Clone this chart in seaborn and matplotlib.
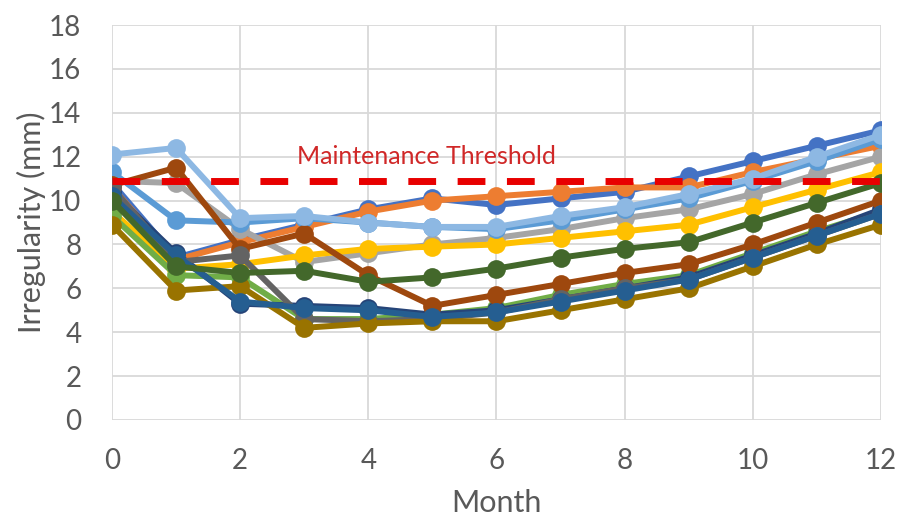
import pandas as pd
import seaborn as sns
import matplotlib.pyplot as plt

months = list(range(13))

blue = [10.8, 7.4, 8.2, 8.9, 9.6, 10.1, 9.8, 10.1, 10.4, 11.1, 11.8, 12.5, 13.2]
orange = [10.6, 7.3, 8.1, 8.8, 9.5, 10.0, 10.2, 10.4, 10.6, 10.6, 11.3, 11.9, 12.5]
gray = [10.9, 10.8, 8.7, 7.2, 7.6, 8.0, 8.3, 8.7, 9.2, 9.6, 10.3, 11.2, 12.0]
gold = [9.5, 6.9, 7.1, 7.5, 7.8, 7.9, 8.0, 8.3, 8.6, 8.9, 9.7, 10.5, 11.3]
light_blue = [11.3, 9.1, 9.0, 9.2, 9.0, 8.8, 8.7, 9.1, 9.6, 10.1, 10.9, 11.8, 12.8]
green = [9.3, 6.6, 6.5, 4.6, 4.6, 4.8, 5.1, 5.7, 6.2, 6.6, 7.6, 8.6, 9.5]
dark_blue = [10.4, 7.6, 5.3, 5.2, 5.1, 4.8, 5.0, 5.5, 6.0, 6.5, 7.5, 8.5, 9.6]
brown = [10.7, 11.5, 7.8, 8.5, 6.6, 5.2, 5.7, 6.2, 6.7, 7.1, 8.0, 9.0, 10.0]
dark_gray = [10.6, 7.2, 7.5, 4.6, 4.5, 4.6, 4.9, 5.5, 6.0, 6.4, 7.4, 8.4, 9.4]
dark_gold = [8.9, 5.9, 6.1, 4.2, 4.4, 4.5, 4.5, 5.0, 5.5, 6.0, 7.0, 8.0, 8.9]
mid_blue = [10.2, 7.5, 5.4, 5.1, 5.0, 4.7, 4.9, 5.4, 5.9, 6.4, 7.4, 8.4, 9.4]
dark_green = [10.0, 7.0, 6.7, 6.8, 6.3, 6.5, 6.9, 7.4, 7.8, 8.1, 9.0, 9.9, 10.8]
pale_blue = [12.1, 12.4, 9.2, 9.3, 9.0, 8.8, 8.8, 9.3, 9.7, 10.3, 11.0, 12.0, 13.0]

threshold = 10.9
threshold_label = "Maintenance Threshold"

series = {
    "s1": (blue, "#4472C4"),
    "s2": (orange, "#ED7D31"),
    "s3": (gray, "#A5A5A5"),
    "s4": (gold, "#FFC000"),
    "s5": (light_blue, "#5B9BD5"),
    "s6": (green, "#70AD47"),
    "s7": (dark_blue, "#264478"),
    "s8": (brown, "#9E480E"),
    "s9": (dark_gray, "#636363"),
    "s10": (dark_gold, "#997300"),
    "s11": (mid_blue, "#255E91"),
    "s12": (dark_green, "#43682B"),
    "s13": (pale_blue, "#8DB8E3"),
}

rows = []
for name, (vals, _) in series.items():
    for m, v in zip(months, vals):
        rows.append({"month": m, "value": v, "series": name})
df = pd.DataFrame(rows)
palette = {name: c for name, (_, c) in series.items()}

sns.set_theme(style="whitegrid")
plt.rcParams["font.family"] = ["Lato", "DejaVu Sans"]

fig = plt.figure(figsize=(8.98, 5.23), dpi=100)
ax = fig.add_axes([0.1247, 0.197, 0.8563, 0.755])

sns.lineplot(data=df, x="month", y="value", hue="series",
             hue_order=list(series.keys()), palette=palette,
             marker="o", markersize=13.5, markeredgewidth=0,
             linewidth=4.3, legend=False, ax=ax, zorder=3)

ax.plot([0, 12], [threshold, threshold], color="#E80000", linewidth=5,
        dashes=(4, 3.1), zorder=3.5)
ax.text(4.9, 12.0, threshold_label, color="#D02828", fontsize=18,
        ha="center", va="center")

ax.set_xlim(0, 12)
ax.set_ylim(0, 18)
ax.set_xticks(range(0, 13, 2))
ax.set_yticks(range(0, 19, 2))
ax.grid(True, color="#D9D9D9", linewidth=1.3)
for s in ax.spines.values():
    s.set_visible(False)
ax.tick_params(axis="both", labelsize=20, labelcolor="#595959", length=0)
ax.tick_params(axis="y", pad=22)
ax.tick_params(axis="x", pad=20)
ax.set_xlabel("Month", fontsize=22, color="#595959", labelpad=11)
ax.set_ylabel("Irregularity (mm)", fontsize=22, color="#595959", labelpad=2)

fig.savefig("out.png", dpi=100)
